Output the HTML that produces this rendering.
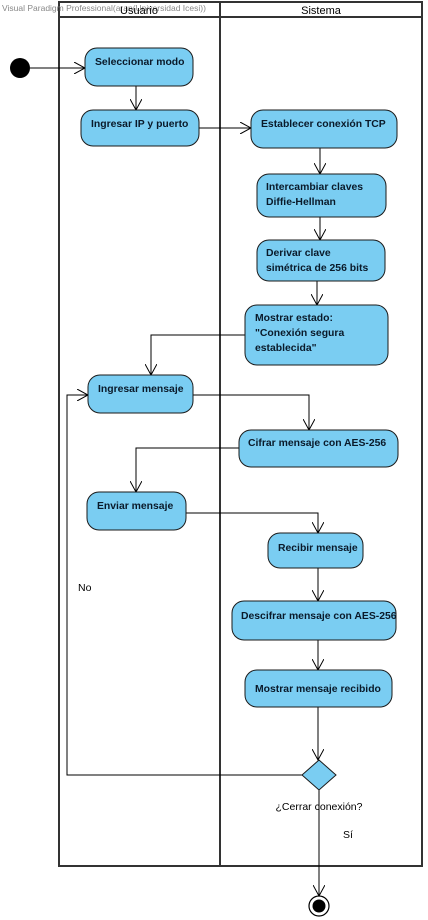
<!DOCTYPE html>
<html><head><meta charset="utf-8"><style>
html,body{margin:0;padding:0;background:#fff;width:428px;height:920px;overflow:hidden}
svg text{font-family:"Liberation Sans",sans-serif}
.n{fill:#7ACDF2;stroke:#1a1a1a;stroke-width:1}
.t{font-size:10.4px;font-weight:bold;fill:#0a1a2a}
.l{fill:none;stroke:#000;stroke-width:1}
</style></head><body>
<svg width="428" height="920" viewBox="0 0 428 920" xmlns="http://www.w3.org/2000/svg">
<defs><marker id="a" markerWidth="12" markerHeight="12" refX="11" refY="6" orient="auto" markerUnits="userSpaceOnUse"><path d="M0,0 L11,6 L0,12" fill="none" stroke="#000" stroke-width="1"/></marker></defs>
<rect x="59" y="2" width="363" height="864" fill="none" stroke="#333" stroke-width="2"/>
<line x1="220" y1="2" x2="220" y2="866" stroke="#333" stroke-width="2"/>
<line x1="59" y1="17" x2="422" y2="17" stroke="#333" stroke-width="2"/>
<text x="2" y="11" font-size="8.5" fill="#888">Visual Paradigm Professional(aran(Universidad Icesi))</text>
<text x="139" y="14" font-size="11" text-anchor="middle" fill="#000">Usuario</text>
<text x="321" y="14" font-size="11" text-anchor="middle" fill="#000">Sistema</text>
<circle cx="20" cy="68" r="10" fill="#000"/>
<path class="l" d="M30,68 H85" marker-end="url(#a)"/>
<path class="l" d="M136,86 V110" marker-end="url(#a)"/>
<path class="l" d="M199,128 H251" marker-end="url(#a)"/>
<path class="l" d="M320,148 V174" marker-end="url(#a)"/>
<path class="l" d="M320,217 V240" marker-end="url(#a)"/>
<path class="l" d="M317,281 V305" marker-end="url(#a)"/>
<path class="l" d="M245,335 H151 V375" marker-end="url(#a)"/>
<path class="l" d="M193,395 H309 V430" marker-end="url(#a)"/>
<path class="l" d="M239,448 H136 V492" marker-end="url(#a)"/>
<path class="l" d="M186,513 H318 V533" marker-end="url(#a)"/>
<path class="l" d="M318,568 V601" marker-end="url(#a)"/>
<path class="l" d="M318,640 V670" marker-end="url(#a)"/>
<path class="l" d="M318,707 V760" marker-end="url(#a)"/>
<path class="l" d="M302,775 H67 V395 H88" marker-end="url(#a)"/>
<path class="l" d="M319,790 V896" marker-end="url(#a)"/>
<rect class="n" x="85" y="48" width="108" height="38" rx="12"/>
<text class="t" x="95" y="65">Seleccionar modo</text>
<rect class="n" x="81" y="110" width="118" height="36" rx="12"/>
<text class="t" x="91" y="127">Ingresar IP y puerto</text>
<rect class="n" x="251" y="110" width="146" height="38" rx="12"/>
<text class="t" x="261" y="127">Establecer conexión TCP</text>
<rect class="n" x="257" y="174" width="129" height="43" rx="12"/>
<text class="t" x="266" y="190">Intercambiar claves</text>
<text class="t" x="266" y="205">Diffie-Hellman</text>
<rect class="n" x="257" y="240" width="128" height="41" rx="12"/>
<text class="t" x="266" y="256">Derivar clave</text>
<text class="t" x="266" y="271">simétrica de 256 bits</text>
<rect class="n" x="245" y="305" width="143" height="60" rx="12"/>
<text class="t" x="255" y="321">Mostrar estado:</text>
<text class="t" x="255" y="336">"Conexión segura</text>
<text class="t" x="255" y="351">establecida"</text>
<rect class="n" x="88" y="375" width="105" height="38" rx="12"/>
<text class="t" x="98" y="392">Ingresar mensaje</text>
<rect class="n" x="239" y="430" width="159" height="37" rx="12"/>
<text class="t" x="248" y="446">Cifrar mensaje con AES-256</text>
<rect class="n" x="87" y="492" width="99" height="38" rx="12"/>
<text class="t" x="97" y="509">Enviar mensaje</text>
<rect class="n" x="268" y="533" width="95" height="35" rx="12"/>
<text class="t" x="278" y="551">Recibir mensaje</text>
<rect class="n" x="232" y="601" width="164" height="39" rx="12"/>
<text class="t" x="241" y="619">Descifrar mensaje con AES-256</text>
<rect class="n" x="245" y="670" width="147" height="37" rx="12"/>
<text class="t" x="255" y="692">Mostrar mensaje recibido</text>
<polygon points="319,760 336,775 319,790 302,775" fill="#7ACDF2" stroke="#1a1a1a"/>
<text x="319" y="810" font-size="10.5" text-anchor="middle" fill="#000">¿Cerrar conexión?</text>
<text x="343" y="838" font-size="10.5" fill="#000">Sí</text>
<text x="78" y="591" font-size="10.5" fill="#000">No</text>
<circle cx="319" cy="906" r="10" fill="#fff" stroke="#000" stroke-width="1.2"/>
<circle cx="319" cy="906" r="6.5" fill="#000"/>
</svg>
</body></html>
